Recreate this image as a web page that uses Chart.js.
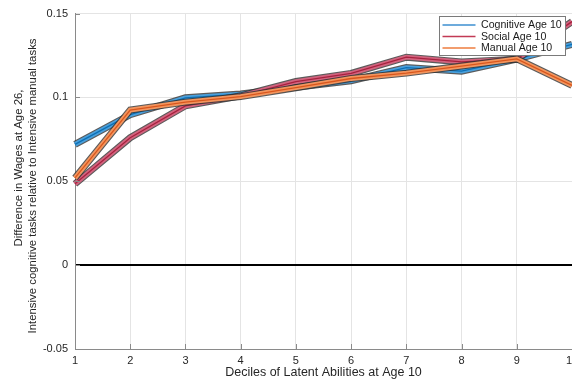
<!DOCTYPE html>
<html>
<head>
<meta charset="utf-8">
<script src="https://cdn.jsdelivr.net/npm/chart.js@4.4.1/dist/chart.umd.min.js"></script>
<style>
  html, body { margin: 0; padding: 0; background: #fff; overflow: hidden; }
  #wrap { position: relative; width: 600px; height: 381px; }
</style>
</head>
<body>
<div id="wrap"><canvas id="c" width="600" height="381"></canvas></div>
<script>
// Deciles of latent abilities and the wage difference for each ability type
const deciles = ['1', '2', '3', '4', '5', '6', '7', '8', '9', '10'];
const cognitive = [0.0720, 0.0897, 0.0998, 0.1020, 0.1060, 0.1100, 0.1178, 0.1157, 0.1228, 0.1316];
const social    = [0.0485, 0.0760, 0.0950, 0.1010, 0.1095, 0.1143, 0.1240, 0.1212, 0.1228, 0.1452];
const manual    = [0.0520, 0.0925, 0.0972, 0.1005, 0.1058, 0.1113, 0.1145, 0.1187, 0.1230, 0.1072];
const yTickValues = [-0.05, 0, 0.05, 0.1, 0.15];
const yTickLabels = ['-0.05', '0', '0.05', '0.1', '0.15'];
const seriesNames = ['Cognitive Age 10', 'Social Age 10', 'Manual Age 10'];
const yTitleLines = ['Difference in Wages at Age 26,', 'Intensive cognitive tasks relative to Intensive manual tasks'];
const xTitle = 'Deciles of Latent Abilities at Age 10';

const FONT = '"Liberation Sans", Arial, Helvetica, sans-serif';

// colour scheme: band fill, centre line, legend line
const palette = [
  { fill: '#4aa0dc', line: '#0b6fb5', legend: '#3d8fd0' },
  { fill: '#d2647f', line: '#a8203e', legend: '#c23a55' },
  { fill: '#f3955e', line: '#d9561c', legend: '#ee7c3e' }
];
const seriesData = [cognitive, social, manual];

// Each series is drawn as a band: dark outline, coloured body, centre line.
const datasets = [];
seriesData.forEach((vals, i) => {
  const base = 30 - i * 10; // later series drawn above earlier ones
  const common = { data: vals, pointRadius: 0, tension: 0, fill: false, borderJoinStyle: 'miter', borderCapStyle: 'butt' };
  datasets.push(Object.assign({}, common, { label: seriesNames[i] + ' edge', borderColor: 'rgba(50,50,50,0.8)', borderWidth: 7, order: base + 3 }));
  datasets.push(Object.assign({}, common, { label: seriesNames[i] + ' body', borderColor: palette[i].fill, borderWidth: 4.8, order: base + 2 }));
  datasets.push(Object.assign({}, common, { label: seriesNames[i], borderColor: palette[i].line, borderWidth: 1.3, order: base + 1 }));
});

// inward tick marks on the left and bottom axes
const tickMarks = {
  id: 'tickMarks',
  afterDraw(chart) {
    const { ctx, chartArea: a, scales: { x, y } } = chart;
    ctx.save();
    ctx.strokeStyle = '#8a8a8a';
    ctx.lineWidth = 1;
    ctx.beginPath();
    x.ticks.forEach((t, i) => {
      const px = Math.round(x.getPixelForTick(i)) + 0.5;
      ctx.moveTo(px, a.bottom);
      ctx.lineTo(px, a.bottom - 5);
    });
    y.ticks.forEach((t, i) => {
      const py = Math.round(y.getPixelForTick(i)) + 0.5;
      ctx.moveTo(a.left, py);
      ctx.lineTo(a.left + 5, py);
    });
    ctx.stroke();
    ctx.restore();
  }
};

// axis titles
const axisTitles = {
  id: 'axisTitles',
  afterDraw(chart) {
    const { ctx, chartArea: a } = chart;
    ctx.save();
    ctx.fillStyle = '#262626';
    ctx.textAlign = 'center';
    ctx.textBaseline = 'middle';
    ctx.font = '12.5px ' + FONT;
    ctx.fillText(xTitle, (a.left + 572) / 2, 372.5);
    ctx.font = '11.4px ' + FONT;
    const rows = [{ x: 19, y: 168 }, { x: 33, y: 186 }];
    yTitleLines.forEach((t, i) => {
      ctx.save();
      ctx.translate(rows[i].x, rows[i].y);
      ctx.rotate(-Math.PI / 2);
      ctx.fillText(t, 0, 0);
      ctx.restore();
    });
    ctx.restore();
  }
};

// boxed legend in the upper right corner
const boxLegend = {
  id: 'boxLegend',
  afterDraw(chart) {
    const { ctx } = chart;
    const bx = 439.5, by = 16.5, bw = 126, bh = 39;
    ctx.save();
    ctx.fillStyle = '#ffffff';
    ctx.fillRect(bx, by, bw, bh);
    ctx.strokeStyle = '#7a7a7a';
    ctx.lineWidth = 1;
    ctx.strokeRect(bx, by, bw, bh);
    ctx.font = '10.6px ' + FONT;
    ctx.textBaseline = 'middle';
    ctx.fillStyle = '#1a1a1a';
    seriesNames.forEach((name, i) => {
      const cy = by + 8.5 + i * 11.5;
      ctx.strokeStyle = palette[i].legend;
      ctx.lineWidth = 1.5;
      ctx.beginPath();
      ctx.moveTo(bx + 3, cy);
      ctx.lineTo(bx + 36, cy);
      ctx.stroke();
      ctx.fillText(name, bx + 41.5, cy + 0.5);
    });
    ctx.restore();
  }
};

new Chart(document.getElementById('c'), {
  type: 'line',
  data: { labels: deciles, datasets },
  options: {
    responsive: false,
    animation: false,
    layout: { padding: { top: 10, right: 28, left: 0, bottom: 0 } },
    plugins: { legend: { display: false }, tooltip: { enabled: false } },
    scales: {
      x: {
        offset: false,
        grid: { color: '#e4e4e4', lineWidth: 1, drawTicks: false },
        border: { color: '#8a8a8a', width: 1 },
        ticks: { color: '#262626', font: { family: FONT, size: 11 }, padding: 5, maxRotation: 0, autoSkip: false },
        afterFit(s) { s.height = 32; }
      },
      y: {
        min: -0.05, max: 0.15,
        afterBuildTicks(s) { s.ticks = yTickValues.map(v => ({ value: v })); },
        grid: {
          drawTicks: false,
          color: c => (c.tick && c.tick.value === 0 ? '#000000' : '#e4e4e4'),
          lineWidth: c => (c.tick && c.tick.value === 0 ? 2 : 1)
        },
        border: { color: '#8a8a8a', width: 1 },
        ticks: {
          color: '#262626', font: { family: FONT, size: 11 }, padding: 7,
          callback: (v) => { const k = yTickValues.findIndex(t => Math.abs(t - v) < 1e-9); return k >= 0 ? yTickLabels[k] : ''; }
        },
        afterFit(s) { s.width = 75; }
      }
    }
  },
  plugins: [tickMarks, axisTitles, boxLegend]
});
</script>
</body>
</html>
